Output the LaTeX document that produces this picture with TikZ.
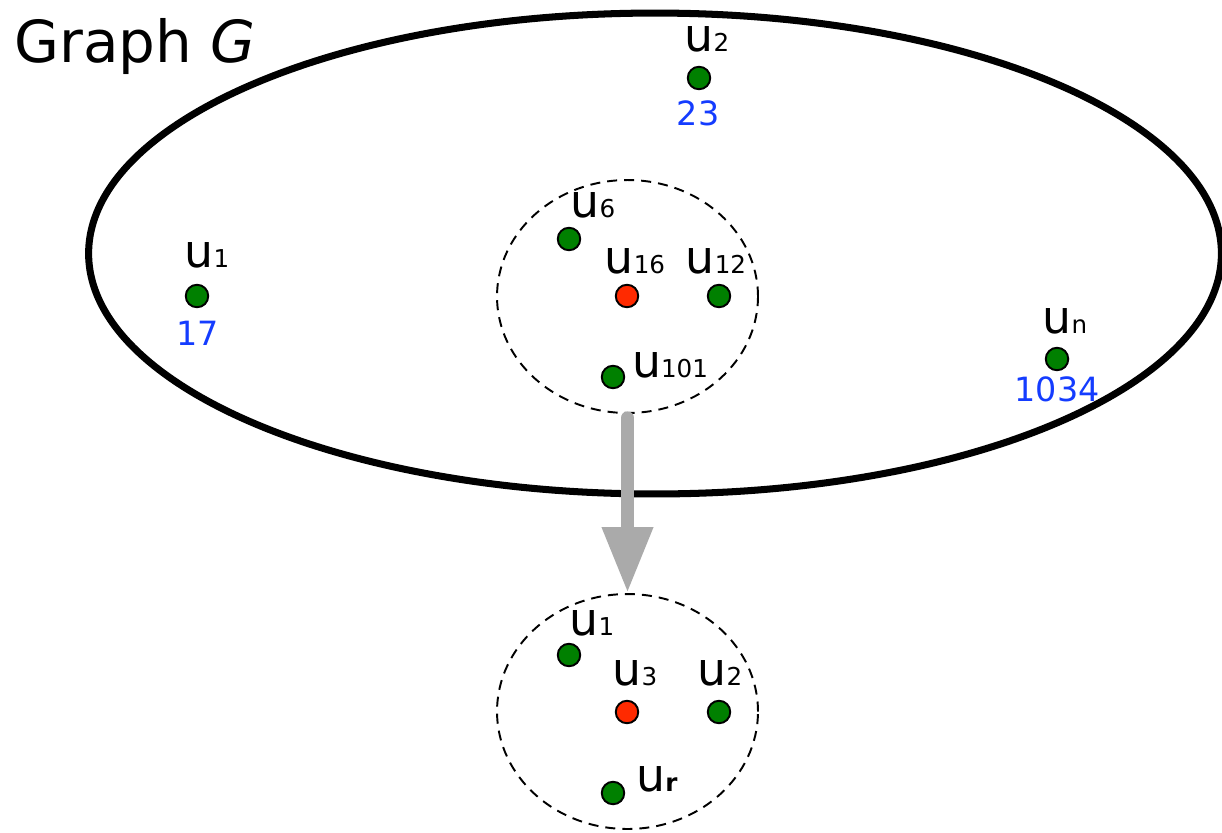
\documentclass[tikz,border=0pt]{standalone}
\usepackage{fontspec}
\setmainfont{DejaVu Sans}
\usepackage{xcolor}
\usetikzlibrary{shapes.geometric}
\usetikzlibrary{arrows.meta}
\usetikzlibrary{positioning}

\definecolor{vgreen}{RGB}{0,128,0}
\definecolor{vred}{RGB}{255,42,0}
\definecolor{numblue}{RGB}{20,60,255}
\definecolor{arrowgray}{RGB}{170,170,170}

\newcommand{\vlab}[2]{{\fontsize{26}{26}\selectfont #1}{\fontsize{14}{14}\selectfont #2}}

\tikzset{
	vertex/.style={circle, draw=black, line width=1.1pt, fill=vgreen, minimum size=0.45cm, inner sep=0pt},
	center/.style={vertex, fill=vred},
	vlabel/.style={anchor=base, inner sep=0pt},
	weight/.style={anchor=base, inner sep=0pt, color=numblue, font=\fontsize{19}{19}\selectfont},
	cluster/.style={ellipse, draw=black, line width=1.1pt, dash pattern=on 5.7pt off 4pt, inner sep=0pt}
}

\begin{document}
\begin{tikzpicture}[x=0.02cm, y=-0.02cm]
			\useasboundingbox (0,0) rectangle (1222,832);
			
			\node[ellipse, draw=black, line width=4pt, minimum width=22.66cm, minimum height=9.62cm, inner sep=0pt] (graph) at (655,253.5) {};
			\node[anchor=base west, inner sep=0pt, font=\fontsize{33}{33}\selectfont] (title) at (14,62) {Graph \textit{G}};
			
			\node[cluster, minimum width=5.22cm, minimum height=4.66cm] (hood) at (627.5,296.5) {};
			\node[cluster, minimum width=5.22cm, minimum height=4.7cm] (sub) at (627.5,711.5) {};
			\draw[-{Triangle[width=27.3pt,length=37.6pt]}, line width=7.6pt, color=arrowgray, line cap=round, shorten <=2.3pt] (hood.south) -- (sub.north);
			
			% graph vertices
			\node[vertex] (v1) at (197,296) {};
			\node[vertex] (v2) at (699,78) {};
			\node[vertex] (vn) at (1057,359) {};
			\node[vlabel] (l1) at (207,267) {\vlab{u}{1}};
			\node[vlabel] (l2) at (707,51) {\vlab{u}{2}};
			\node[vlabel] (ln) at (1065,333) {\vlab{u}{n}};
			\node[weight] (w1) at (198,345) {17};
			\node[weight] (w2) at (698,125) {23};
			\node[weight] (wn) at (1057,401) {1034};
			
			% neighbourhood of u16
			\node[vertex] (v6) at (569,239) {};
			\node[center] (v16) at (627,296) {};
			\node[vertex] (v12) at (719,296) {};
			\node[vertex] (v101) at (613,377) {};
			\node[vlabel] (l6) at (593,217) {\vlab{u}{6}};
			\node[vlabel] (l16) at (635,273) {\vlab{u}{16}};
			\node[vlabel] (l12) at (716,273) {\vlab{u}{12}};
			\node[vlabel] (l101) at (670,377) {\vlab{u}{101}};
			
			% extracted subgraph
			\node[vertex] (s1) at (569,655) {};
			\node[center] (s3) at (627,712) {};
			\node[vertex] (s2) at (719,712) {};
			\node[vertex] (sr) at (613,793) {};
			\node[vlabel] (k1) at (592,635) {\vlab{u}{1}};
			\node[vlabel] (k3) at (635,685) {\vlab{u}{3}};
			\node[vlabel] (k2) at (720,685) {\vlab{u}{2}};
			\node[vlabel] (kr) at (657,791) {\vlab{u}{\bfseries r}};
		\end{tikzpicture}
\end{document}
